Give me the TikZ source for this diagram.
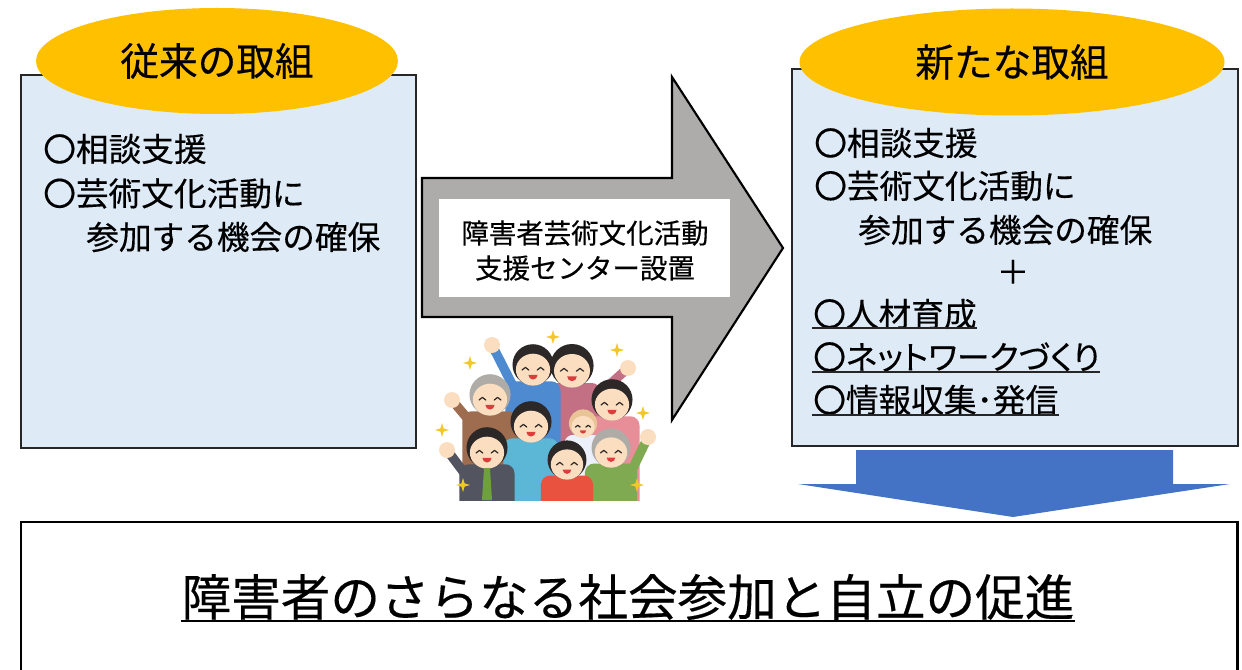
\documentclass[tikz,border=0pt]{standalone}
\usepackage{fontspec}
\setmainfont{Noto Sans CJK JP}[FakeBold=0.35]
\newfontfamily\kanapalt{Noto Sans CJK JP}[RawFeature=+palt, FakeBold=0.35]
\usetikzlibrary{shapes.geometric}

\definecolor{boxblue}{RGB}{222,234,246}
\definecolor{titlegold}{RGB}{255,192,0}
\definecolor{arrowgray}{RGB}{174,171,171}
\definecolor{arrowblue}{RGB}{68,114,196}
\definecolor{linegray}{RGB}{38,38,38}
\definecolor{skin}{RGB}{251,222,192}
\definecolor{hairblack}{RGB}{45,40,40}
\definecolor{hairgray}{RGB}{175,172,168}
\definecolor{hairlight}{RGB}{232,196,150}
\definecolor{shirtblue}{RGB}{78,138,208}
\definecolor{shirtmauve}{RGB}{196,112,132}
\definecolor{shirtbrown}{RGB}{158,108,78}
\definecolor{shirtpink}{RGB}{232,142,152}
\definecolor{shirtcyan}{RGB}{92,182,214}
\definecolor{shirtwhite}{RGB}{236,240,250}
\definecolor{suitgray}{RGB}{82,84,96}
\definecolor{shirtred}{RGB}{232,82,62}
\definecolor{shirtgreen}{RGB}{128,170,82}
\definecolor{tiegreen}{RGB}{110,160,60}
\definecolor{mouthred}{RGB}{220,60,60}
\definecolor{sparkle}{RGB}{242,200,40}

% one member of the cheering crowd: x, y, head radius, hair colour, shirt colour
\newcommand\crowdmember[5]{%
  \fill[#5, rounded corners=7pt] ({#1-1.45*#3},510) rectangle ({#1+1.45*#3},{#2+0.75*#3});
  \fill[#4] (#1,{#2-0.12*#3}) circle[radius={1.08*#3}];
  \fill[skin] (#1,{#2+0.14*#3}) ellipse[x radius={0.9*#3}, y radius={0.84*#3}];
  \draw[hairblack, line width=0.9pt, line cap=round, line join=round]
    ({#1-0.58*#3},{#2+0.16*#3}) -- ({#1-0.4*#3},{#2+0.02*#3}) -- ({#1-0.22*#3},{#2+0.16*#3})
    ({#1+0.22*#3},{#2+0.16*#3}) -- ({#1+0.4*#3},{#2+0.02*#3}) -- ({#1+0.58*#3},{#2+0.16*#3});
  \fill[mouthred] ({#1-0.24*#3},{#2+0.42*#3}) -- ({#1+0.24*#3},{#2+0.42*#3})
    arc[start angle=0, end angle=180, radius={0.24*#3}] -- cycle;
}
% a raised arm ending in a fist: shoulder x, y, fist x, y, sleeve colour
\newcommand\raisedarm[5]{%
  \draw[#5, line width=7pt, line cap=round] (#1,#2) -- (#3,#4);
  \fill[skin] (#3,#4) circle[radius=8];
}
% a four-pointed sparkle
\newcommand\sparkstar[2]{%
  \fill[sparkle] (#1,{#2-7}) -- ({#1+1.6},{#2-1.6}) -- ({#1+7},#2) -- ({#1+1.6},{#2+1.6})
    -- (#1,{#2+7}) -- ({#1-1.6},{#2+1.6}) -- ({#1-7},#2) -- ({#1-1.6},{#2-1.6}) -- cycle;
}

\begin{document}
\begin{tikzpicture}[x=0.75pt,y=-0.75pt,
  panel/.style={draw=linegray, line width=1.5pt, fill=boxblue, anchor=north west, inner sep=0pt},
  titleoval/.style={ellipse, fill=titlegold, inner sep=0pt, font=\fontsize{29pt}{29pt}\selectfont},
  itemtext/.style={anchor=west, inner sep=0pt, font=\fontsize{24.5pt}{24.5pt}\selectfont},
  uline/.style={draw=linegray, line width=1.4pt},
  centertext/.style={inner sep=0pt, align=center, font=\fontsize{20.6pt}{26.25pt}\selectfont},
  goaltext/.style={inner sep=0pt, font=\fontsize{37.2pt}{37.2pt}\selectfont}]
\useasboundingbox (0,0) rectangle (1242,670);

% current activities panel
\node[panel, minimum width=296.25pt, minimum height=279.75pt] (oldbox) at (20,74) {};
\node[titleoval, minimum width=271.5pt, minimum height=79.5pt] (oldtitle) at (217,61) {従来の取組};
\node[itemtext] (old1) at (43,149) {〇相談支援};
\node[itemtext] (old2) at (43,193.5) {〇芸術文化活動に};
\node[itemtext] (old3) at (86,237) {参加する機会の確保};

% new activities panel
\node[panel, minimum width=334.5pt, minimum height=282.75pt] (newbox) at (791,68) {};
\node[titleoval, minimum width=318.75pt, minimum height=80.25pt] (newtitle) at (1012,62) {新たな取組};
\node[itemtext] (new1) at (814,143) {〇相談支援};
\node[itemtext] (new2) at (814,186) {〇芸術文化活動に};
\node[itemtext] (new3) at (858,230) {参加する機会の確保};
\node[inner sep=0pt, font=\fontsize{24.5pt}{24.5pt}\selectfont] (plus) at (1013,272) {＋};
\node[itemtext] (new4) at (813,314) {〇人材育成};
\node[itemtext] (new5) at (813,357) {\kanapalt 〇ネットワークづくり};
\node[itemtext] (new6) at (813,400) {〇情報収集･発信};
\draw[uline] (812,328) -- (812,328 -| new4.east);
\draw[uline] (812,372) -- (812,372 -| new5.east);
\draw[uline] (812,415) -- (812,415 -| new6.east);

% transition arrow with the support centre label
\draw[fill=arrowgray, draw=black, line width=1.6pt, line join=miter]
  (422,178) -- (672,178) -- (672,77) -- (783,248) -- (672,420) -- (672,317) -- (422,317) -- cycle;
\node[fill=white, inner sep=0pt, minimum width=218.25pt, minimum height=73.5pt] (centerlabel) at (584.5,248) {};
\node[centertext] (centertxt) at (585,250.5) {障害者芸術文化活動\\支援センター設置};

% outcome arrow
\fill[arrowblue] (856,450) -- (1173,450) -- (1173,484) -- (1230,484) -- (1013,517) -- (798,484) -- (856,484) -- cycle;

% outcome panel
\node[fill=white, inner sep=0pt, anchor=north west, minimum width=912pt, minimum height=111pt] (goal) at (21,522) {};
\draw[draw=black, line width=1.9pt] (goal.south west) -- (goal.north west) -- (goal.north east) -- (goal.south east);
\node[goaltext] (goaltxt) at (628,597) {障害者のさらなる社会参加と自立の促進};
\draw[draw=black, line width=2.2pt] (goaltxt.west |- 0,621) -- (goaltxt.east |- 0,621);

% cheering crowd
\begin{scope}
  \clip (425,320) rectangle (672,500);
  \raisedarm{597}{396}{628}{368}{shirtmauve}
  \crowdmember{572}{368}{20}{hairblack}{shirtmauve}
  \raisedarm{516}{392}{492}{345}{shirtblue}
  \crowdmember{533}{367}{19}{hairblack}{shirtblue}
  \raisedarm{472}{424}{452}{400}{shirtbrown}
  \crowdmember{490}{397}{19}{hairgray}{shirtbrown}
  \crowdmember{612}{402}{19}{hairblack}{shirtpink}
  \crowdmember{583}{425}{13}{hairlight}{shirtwhite}
  \crowdmember{531}{424}{19}{hairblack}{shirtcyan}
  \raisedarm{468}{478}{447}{450}{suitgray}
  \crowdmember{487}{450}{19}{hairblack}{suitgray}
  \fill[tiegreen] (484,468) -- (490,468) -- (492,500) -- (482,500) -- cycle;
  \raisedarm{630}{474}{648}{437}{shirtgreen}
  \crowdmember{611}{450}{18}{hairgray}{shirtgreen}
  \crowdmember{567}{462}{18}{hairblack}{shirtred}
\end{scope}
\sparkstar{553}{337}
\sparkstar{617}{350}
\sparkstar{470}{363}
\sparkstar{643}{413}
\sparkstar{442}{430}
\sparkstar{463}{485}
\sparkstar{637}{485}
\end{tikzpicture}
\end{document}
